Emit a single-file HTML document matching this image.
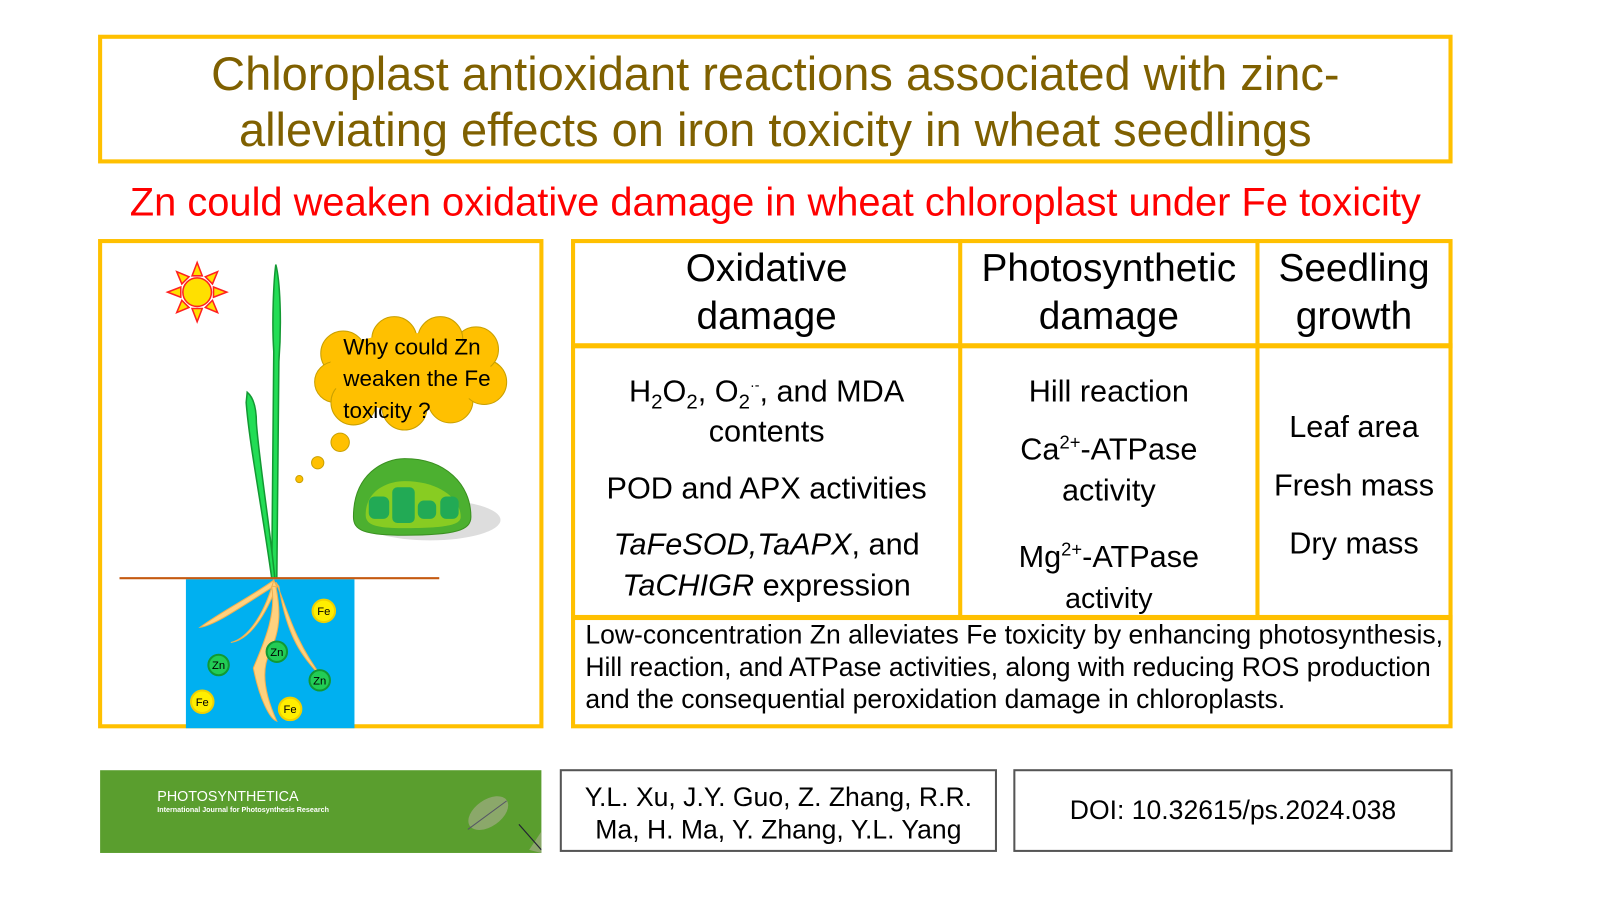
<!DOCTYPE html>
<html><head><meta charset="utf-8"><style>
body{margin:0;width:1600px;height:900px;background:#fff;position:relative;overflow:hidden;font-family:"Liberation Sans",Arial,sans-serif}
#w{position:absolute;left:0;top:0;width:1600px;height:900px;transform-origin:0 0;transform:scale(1.0215)}
.a{position:absolute}
.c{text-align:center;white-space:nowrap}
.y{border:4px solid #FFC000;box-sizing:border-box}
</style></head><body><div id="w">
<div class="a y c" style="left:96px;top:34px;width:1326px;height:126px;color:#7F6000;font-size:46px;line-height:55px;padding-top:7px">Chloroplast antioxidant reactions associated with zinc-<br>alleviating effects on iron toxicity in wheat seedlings</div>
<div class="a c" style="left:96px;top:176px;width:1326px;color:#FF0000;font-size:39px;line-height:46px">Zn could weaken oxidative damage in wheat chloroplast under Fe toxicity</div>

<div class="a y" style="left:96px;top:234px;width:436px;height:479px"></div>
<svg class="a" style="left:96px;top:234px" width="436" height="479">
 <g transform="translate(97,52)">
  <g fill="#FFE000" stroke="#FF2020" stroke-width="1.5">
   <polygon points="0,-29 5,-16 -5,-16"/><polygon points="0,29 5,16 -5,16"/>
   <polygon points="-29,0 -16,5 -16,-5"/><polygon points="29,0 16,5 16,-5"/>
   <polygon points="20,-20 15,-8 8,-15" /><polygon points="-20,-20 -15,-8 -8,-15"/>
   <polygon points="20,20 15,8 8,15"/><polygon points="-20,20 -15,8 -8,15"/>
   <circle r="14"/>
  </g>
 </g>
 <path d="M170,332 L172,110 C170,80 172,40 174,25 C178,40 180,80 177,120 L175,332 Z" fill="#22DD55" stroke="#139933" stroke-width="1.5"/>
 <path d="M170,332 C160,260 148,200 145,160 L146,150 C152,155 155,165 155,180 C158,220 168,280 173,332 Z" fill="#22DD55" stroke="#139933" stroke-width="1.5"/>
 <rect x="86" y="333" width="165" height="146" fill="#00B0F0"/>
 <line x1="21" y1="332" x2="334" y2="332" stroke="#C55A11" stroke-width="2"/>
 <g fill="#FFD27F" stroke="#F0B050" stroke-width="1">
  <path d="M172,334 C150,350 120,365 100,380 C115,378 140,360 172,340 Z"/>
  <path d="M172,334 C165,360 150,390 130,395 C150,392 165,365 175,340 Z"/>
  <path d="M170,340 C175,370 160,400 152,420 C158,450 168,470 175,472 C165,450 158,425 168,405 C180,380 178,360 174,340 Z"/>
  <path d="M174,336 C185,360 190,390 220,430 C200,410 185,390 177,340 Z"/>
 </g>
 <g font-size="11" text-anchor="middle" stroke-width="2">
  <g fill="#FFEE00" stroke="#F0D000"><circle cx="221" cy="364" r="11"/><circle cx="102" cy="453" r="11"/><circle cx="188" cy="460" r="11"/></g>
  <g fill="#22CC55" stroke="#119933"><circle cx="118" cy="417" r="10"/><circle cx="175" cy="404" r="10"/><circle cx="217" cy="432" r="10"/></g>
  <g fill="#000" stroke="none"><text x="221" y="368">Fe</text><text x="102" y="457">Fe</text><text x="188" y="464">Fe</text><text x="118" y="421">Zn</text><text x="175" y="408">Zn</text><text x="217" y="436">Zn</text></g>
 </g>
 <g fill="#FFC000" stroke="#C9A000" stroke-width="1">
  <circle cx="240" cy="112" r="22"/><circle cx="232" cy="140" r="20"/><circle cx="250" cy="160" r="22"/><circle cx="300" cy="165" r="22"/><circle cx="345" cy="158" r="22"/><circle cx="378" cy="140" r="22"/><circle cx="370" cy="108" r="22"/><circle cx="335" cy="98" r="22"/><circle cx="290" cy="98" r="22"/>
  <ellipse cx="305" cy="130" rx="80" ry="38" stroke="none"/>
  <circle cx="237" cy="199" r="9"/><circle cx="215" cy="219" r="6"/><circle cx="197" cy="235" r="3.5"/>
 </g>
 <ellipse cx="325" cy="275" rx="69" ry="20" fill="#DDD"/>
 <path d="M250,272 C250,230 280,215 300,215 C340,215 365,240 365,272 C365,285 350,290 300,290 C260,290 250,285 250,272 Z" fill="#4CB030" stroke="#3A9020"/>
 <path d="M262,270 C262,245 285,237 300,237 C335,237 355,255 355,272 C355,280 340,283 300,283 C272,283 262,280 262,270 Z" fill="#88CC22"/>
 <g fill="#22AA55"><rect x="265" y="252" width="20" height="22" rx="6"/><rect x="288" y="243" width="22" height="35" rx="5"/><rect x="313" y="256" width="18" height="18" rx="6"/><rect x="335" y="252" width="18" height="22" rx="6"/></g>
 <text x="240" y="113" font-size="22" font-family="Liberation Sans,sans-serif">Why could Zn</text>
 <text x="240" y="144" font-size="22" font-family="Liberation Sans,sans-serif">weaken the Fe</text>
 <text x="240" y="175" font-size="22" font-family="Liberation Sans,sans-serif">toxicity ?</text>
</svg>

<div class="a y" style="left:559px;top:234px;width:863px;height:479px"></div>
<div class="a" style="left:938px;top:234px;width:4px;height:372px;background:#FFC000"></div>
<div class="a" style="left:1229px;top:234px;width:4px;height:372px;background:#FFC000"></div>
<div class="a" style="left:559px;top:336px;width:863px;height:5px;background:#FFC000"></div>
<div class="a" style="left:559px;top:602px;width:863px;height:5px;background:#FFC000"></div>

<div class="a c" style="left:563px;top:240px;width:375px;font-size:38px;line-height:47px">Oxidative<br>damage</div>
<div class="a c" style="left:942px;top:240px;width:287px;font-size:38px;line-height:47px">Photosynthetic<br>damage</div>
<div class="a c" style="left:1233px;top:240px;width:185px;font-size:38px;line-height:47px">Seedling<br>growth</div>

<div class="a c" style="left:563px;top:366px;width:375px;font-size:30px;line-height:36px">H<sub style="font-size:20px;line-height:0">2</sub>O<sub style="font-size:20px;line-height:0">2</sub>, O<sub style="font-size:20px;line-height:0">2</sub><sup style="font-size:14px;line-height:0">·-</sup>, and MDA</div>
<div class="a c" style="left:563px;top:405px;width:375px;font-size:30px;line-height:36px">contents</div>
<div class="a c" style="left:563px;top:461px;width:375px;font-size:30px;line-height:36px">POD and APX activities</div>
<div class="a c" style="left:563px;top:514px;width:375px;font-size:30px;line-height:40px"><i>TaFeSOD,TaAPX</i>, and<br><i>TaCHIGR</i> expression</div>

<div class="a c" style="left:942px;top:366px;width:287px;font-size:30px;line-height:36px">Hill reaction</div>
<div class="a c" style="left:942px;top:421px;width:287px;font-size:30px;line-height:40px">Ca<sup style="font-size:18px;line-height:0">2+</sup>-ATPase<br>activity</div>
<div class="a c" style="left:942px;top:526px;width:287px;font-size:30px;line-height:40px">Mg<sup style="font-size:18px;line-height:0">2+</sup>-ATPase<br><span style="font-size:28px">activity</span></div>

<div class="a c" style="left:1233px;top:390px;width:185px;font-size:30px;line-height:57px">Leaf area<br>Fresh mass<br>Dry mass</div>

<div class="a" style="left:573px;top:606px;width:850px;font-size:26px;line-height:31.5px;white-space:nowrap">Low-concentration Zn alleviates Fe toxicity by enhancing photosynthesis,<br>Hill reaction, and ATPase activities, along with reducing ROS production<br>and the consequential peroxidation damage in chloroplasts.</div>

<div class="a" style="left:98px;top:754px;width:432px;height:81px;background:#5A9E2E;color:#fff">
 <div class="a" style="left:56px;top:17px;font-size:14px">PHOTOSYNTHETICA</div>
 <div class="a" style="left:56px;top:36px;font-size:7px;font-weight:bold">International Journal for Photosynthesis Research</div>
 <svg class="a" style="left:350px;top:20px" width="82" height="61"><ellipse cx="30" cy="22" rx="22" ry="13" transform="rotate(-35 30 22)" fill="#8BA86A"/><path d="M10,38 L48,10" stroke="#556" stroke-width="1"/><path d="M70,58 L82,40 L82,61 Z" fill="#8BA86A"/><path d="M60,33 L82,58" stroke="#223" stroke-width="1.2"/></svg>
</div>
<div class="a c" style="left:548px;top:753px;width:428px;height:81px;border:2px solid #555;box-sizing:border-box;font-size:26px;line-height:32px;padding-top:9px">Y.L. Xu, J.Y. Guo, Z. Zhang, R.R.<br>Ma, H. Ma, Y. Zhang, Y.L. Yang</div>
<div class="a c" style="left:992px;top:753px;width:430px;height:81px;border:2px solid #555;box-sizing:border-box;font-size:26px;line-height:77px">DOI: 10.32615/ps.2024.038</div>
</div></body></html>
